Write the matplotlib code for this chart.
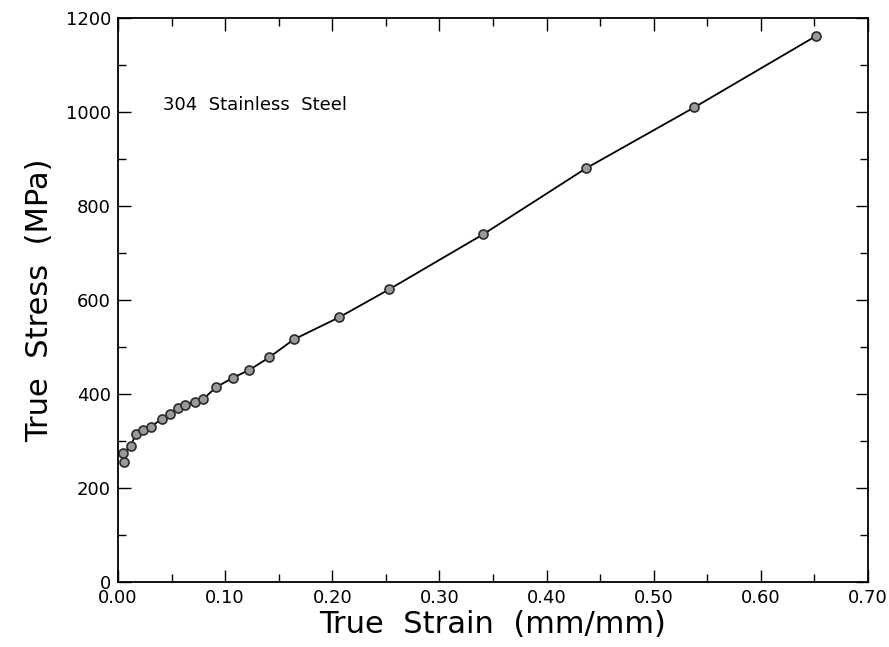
import matplotlib
matplotlib.use("Agg")
import matplotlib.pyplot as plt
from matplotlib.ticker import MultipleLocator, FormatStrFormatter

# True strain (mm/mm) and true stress (MPa) for 304 stainless steel
strain = [0.0056, 0.0050, 0.0118, 0.0168, 0.0236, 0.0305, 0.0408, 0.0485,
          0.0557, 0.0625, 0.0719, 0.0796, 0.0912, 0.1076, 0.1225, 0.1412,
          0.1640, 0.2063, 0.2533, 0.3410, 0.4367, 0.5380, 0.6510]
stress = [256, 274, 290, 314, 323, 330, 347, 357,
          370, 377, 384, 389, 414, 435, 451, 478,
          516, 563, 623, 740, 880, 1010, 1161]

x_ticks = [0.0, 0.1, 0.2, 0.3, 0.4, 0.5, 0.6, 0.7]
y_ticks = [0, 200, 400, 600, 800, 1000, 1200]

fig = plt.figure(figsize=(8.89, 6.47), dpi=100)
ax = fig.add_axes([118 / 889, 1 - 582 / 647, 750 / 889, 564 / 647])

ax.plot(strain, stress, color="black", linewidth=1.3, marker="o",
        markersize=6.5, markerfacecolor="#9a9a9a", markeredgecolor="#2a2a2a",
        markeredgewidth=1.2)

ax.set_xlim(0, 0.70)
ax.set_ylim(0, 1200)
ax.set_xticks(x_ticks)
ax.set_yticks(y_ticks)
ax.xaxis.set_minor_locator(MultipleLocator(0.05))
ax.yaxis.set_minor_locator(MultipleLocator(100))
ax.xaxis.set_major_formatter(FormatStrFormatter("%.2f"))
ax.tick_params(which="both", direction="in", top=True, right=True,
               labelsize=13, width=1.0, pad=5)
ax.tick_params(which="major", length=9)
ax.tick_params(which="minor", length=6)
for s in ax.spines.values():
    s.set_linewidth(1.3)

ax.set_xlabel("True  Strain  (mm/mm)", fontsize=22, labelpad=2)
ax.set_ylabel("True  Stress  (MPa)", fontsize=22, labelpad=8)

ax.text(0.042, 1015, "304  Stainless  Steel", fontsize=13,
        ha="left", va="center")

fig.savefig("out.png", dpi=100, facecolor="white")
